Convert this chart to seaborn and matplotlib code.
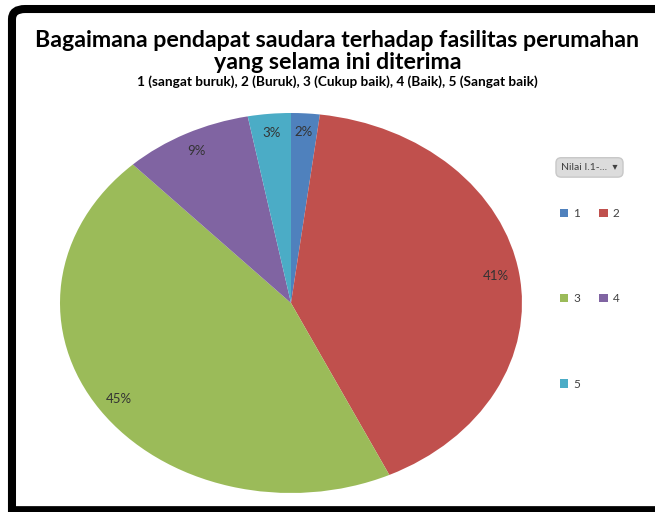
import matplotlib
matplotlib.use("Agg")
import matplotlib.pyplot as plt
import seaborn as sns
from matplotlib.patches import Patch, FancyBboxPatch
from matplotlib.lines import Line2D

# data
categories = ["1", "2", "3", "4", "5"]
shares = [2, 41, 45, 9, 3]
colors = ["#4F81BD", "#C0504D", "#9BBB59", "#8064A2", "#4BACC6"]

title_text = "Bagaimana pendapat saudara terhadap fasilitas perumahan\nyang selama ini diterima"
subtitle_text = "1 (sangat buruk), 2 (Buruk), 3 (Cukup baik), 4 (Baik), 5 (Sangat baik)"
filter_text = "Nilai I.1-...  \u25be"

sns.set_theme(style="white")
plt.rcParams['font.family'] = ['Lato', 'DejaVu Sans']

fig = plt.figure(figsize=(6.55, 5.12), dpi=100)
fig.patch.set_facecolor("white")

# pie (stretched, like the screenshot)
ax = fig.add_axes([0.0916, 0.0371, 0.7053, 0.7422])
wedges, texts, autotexts = ax.pie(
    shares, colors=colors, startangle=90, counterclock=False,
    autopct=lambda p: f"{p:.0f}%", pctdistance=0.9,
    textprops={'fontsize': 9.5, 'color': '#333333'},
    wedgeprops={'linewidth': 0},
)
ax.set_aspect('auto')
ax.set_xlim(-1, 1)
ax.set_ylim(-1, 1)
ax.axis('off')

# titles
fig.text(0.515, 0.899, title_text, ha='center', va='center', fontsize=16.7,
         fontweight='bold', color='black', linespacing=1.05)
fig.text(0.515, 0.840, subtitle_text, ha='center', va='center', fontsize=9.8,
         fontweight='bold', color='black')

# filter button
fig.text(0.9, 0.673, filter_text, ha='center', va='center', fontsize=7.5,
         color='#404040',
         bbox=dict(boxstyle='round,pad=0.5', facecolor='#dcdcdc', edgecolor='#c8c8c8'))

# legend, row-wise order 1 2 / 3 4 / 5
handles = [Patch(facecolor=c, edgecolor='none') for c in colors]
order = [0, 2, 4, 1, 3]
fig.legend([handles[i] for i in order], [categories[i] for i in order],
           loc='upper left', bbox_to_anchor=(0.855, 0.594), ncol=2,
           frameon=False, fontsize=8.5, labelcolor='#404040',
           handlelength=0.7, handleheight=0.7, handletextpad=0.4,
           labelspacing=6.3, columnspacing=1.66, borderpad=0, borderaxespad=0)

# black screenshot frame (left and top with rounded corner, then bottom)
frame = FancyBboxPatch((0.0183, -0.5), 1.2, 1.4824, transform=fig.transFigure,
                       boxstyle='round,pad=0,rounding_size=0.02',
                       facecolor='none', edgecolor='black', linewidth=5.8,
                       clip_on=False)
fig.add_artist(frame)
fig.add_artist(Line2D([0.0122, 1.0], [0.001, 0.001], transform=fig.transFigure,
                      color='black', linewidth=7, solid_capstyle='butt'))

fig.savefig("out.png", dpi=100)
